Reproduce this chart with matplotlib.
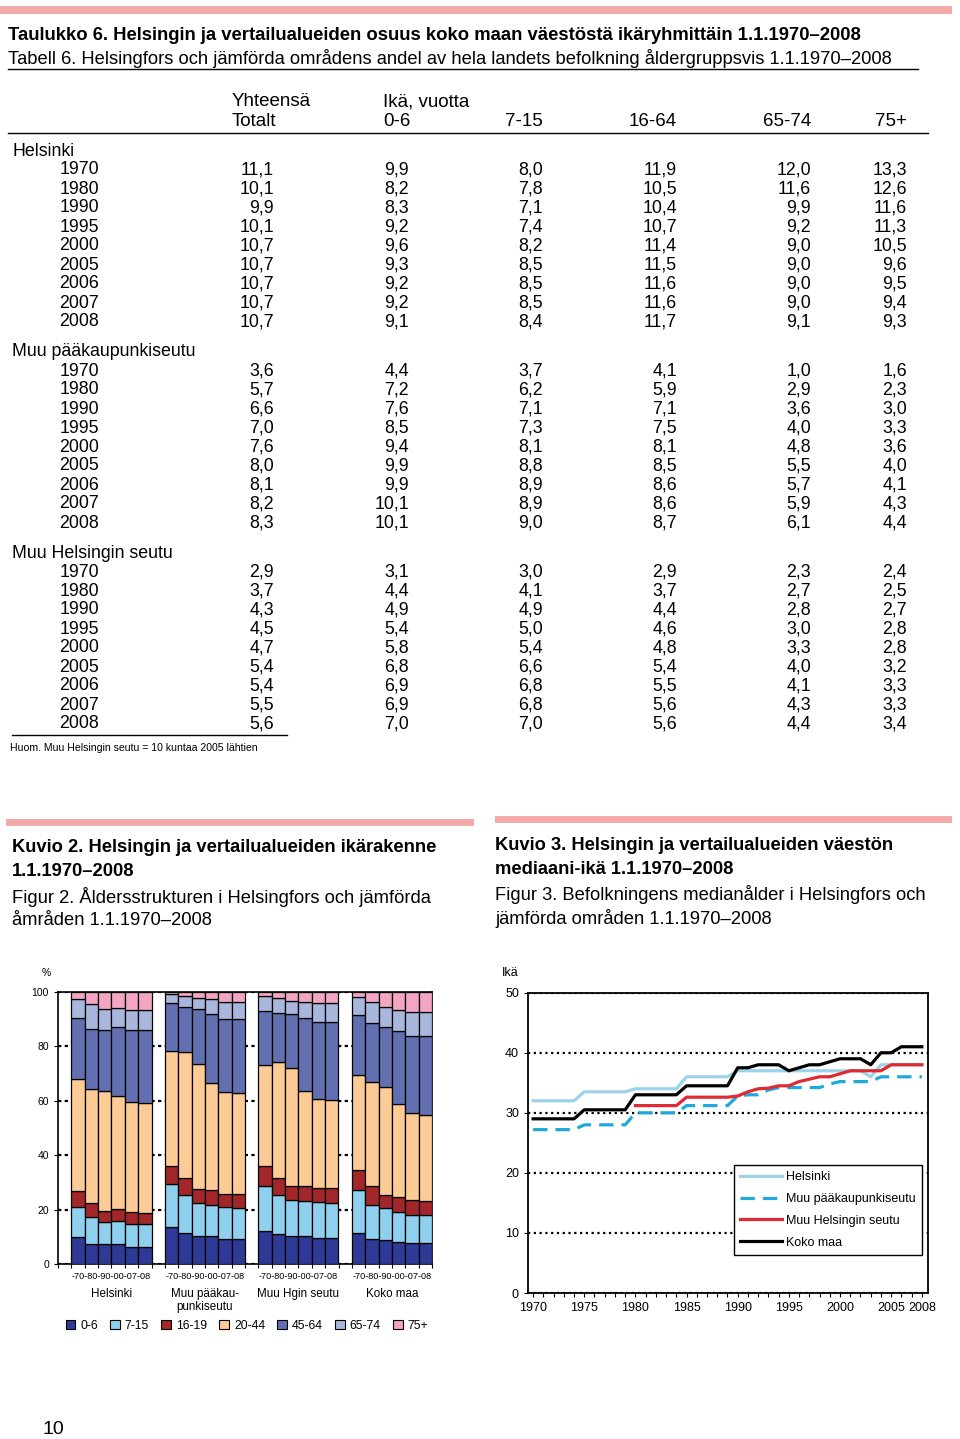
import numpy as np
import matplotlib
matplotlib.use("Agg")
import matplotlib.pyplot as plt
from matplotlib.patches import Rectangle, Patch
from matplotlib.lines import Line2D

plt.rcParams['font.family'] = ['Liberation Sans', 'DejaVu Sans']
NARROW = ['Liberation Sans Narrow', 'Liberation Sans', 'DejaVu Sans']

W, H = 960, 1439

# ---------------- table data ----------------
table_years = [1970, 1980, 1990, 1995, 2000, 2005, 2006, 2007, 2008]
table_groups = ["Helsinki", "Muu pääkaupunkiseutu", "Muu Helsingin seutu"]
table_cols = ["Totalt", "0-6", "7-15", "16-64", "65-74", "75+"]

hki_table = [
    [11.1, 9.9, 8.0, 11.9, 12.0, 13.3],
    [10.1, 8.2, 7.8, 10.5, 11.6, 12.6],
    [9.9, 8.3, 7.1, 10.4, 9.9, 11.6],
    [10.1, 9.2, 7.4, 10.7, 9.2, 11.3],
    [10.7, 9.6, 8.2, 11.4, 9.0, 10.5],
    [10.7, 9.3, 8.5, 11.5, 9.0, 9.6],
    [10.7, 9.2, 8.5, 11.6, 9.0, 9.5],
    [10.7, 9.2, 8.5, 11.6, 9.0, 9.4],
    [10.7, 9.1, 8.4, 11.7, 9.1, 9.3],
]
pks_table = [
    [3.6, 4.4, 3.7, 4.1, 1.0, 1.6],
    [5.7, 7.2, 6.2, 5.9, 2.9, 2.3],
    [6.6, 7.6, 7.1, 7.1, 3.6, 3.0],
    [7.0, 8.5, 7.3, 7.5, 4.0, 3.3],
    [7.6, 9.4, 8.1, 8.1, 4.8, 3.6],
    [8.0, 9.9, 8.8, 8.5, 5.5, 4.0],
    [8.1, 9.9, 8.9, 8.6, 5.7, 4.1],
    [8.2, 10.1, 8.9, 8.6, 5.9, 4.3],
    [8.3, 10.1, 9.0, 8.7, 6.1, 4.4],
]
hs_table = [
    [2.9, 3.1, 3.0, 2.9, 2.3, 2.4],
    [3.7, 4.4, 4.1, 3.7, 2.7, 2.5],
    [4.3, 4.9, 4.9, 4.4, 2.8, 2.7],
    [4.5, 5.4, 5.0, 4.6, 3.0, 2.8],
    [4.7, 5.8, 5.4, 4.8, 3.3, 2.8],
    [5.4, 6.8, 6.6, 5.4, 4.0, 3.2],
    [5.4, 6.9, 6.8, 5.5, 4.1, 3.3],
    [5.5, 6.9, 6.8, 5.6, 4.3, 3.3],
    [5.6, 7.0, 7.0, 5.6, 4.4, 3.4],
]

# ---------------- stacked bar data (%), bars -70 -80 -90 -00 -07 -08 ----------------
bar_regions = ["Helsinki", "Muu pääkau-\npunkiseutu", "Muu Hgin seutu", "Koko maa"]
bar_ticklabel = "-70-80-90-00-07-08"
age_groups = ["0-6", "7-15", "16-19", "20-44", "45-64", "65-74", "75+"]
age_colors = ["#2E3A96", "#8FD0EE", "#A3262A", "#FDCB96", "#6270B1", "#AAB7DD", "#F3A6C3"]

hki_shares = [
    [10.0, 10.8, 6.0, 41.1, 22.6, 6.7, 2.8],
    [7.3, 9.8, 5.2, 42.0, 22.0, 9.0, 4.7],
    [7.3, 8.2, 4.0, 44.0, 22.4, 7.8, 6.3],
    [7.3, 8.5, 4.3, 41.6, 25.3, 7.1, 5.9],
    [6.4, 8.3, 4.4, 40.5, 26.3, 7.2, 6.9],
    [6.4, 8.3, 4.1, 40.4, 26.7, 7.5, 6.6],
]
pks_shares = [
    [13.7, 15.7, 6.6, 42.3, 17.4, 3.3, 1.0],
    [11.3, 14.2, 6.1, 46.4, 16.5, 4.0, 1.5],
    [10.3, 12.1, 5.1, 45.8, 20.2, 4.3, 2.2],
    [10.3, 11.5, 5.5, 39.0, 25.5, 5.4, 2.8],
    [9.3, 11.5, 5.0, 37.4, 26.8, 6.1, 3.9],
    [9.3, 11.3, 5.2, 37.1, 26.9, 6.3, 3.9],
]
hs_shares = [
    [12.0, 16.8, 7.3, 37.1, 19.7, 5.5, 1.6],
    [11.0, 14.2, 6.4, 42.5, 17.9, 5.6, 2.4],
    [10.3, 13.2, 5.0, 43.6, 19.7, 4.9, 3.3],
    [10.3, 12.7, 5.5, 35.1, 26.9, 5.7, 3.8],
    [9.5, 13.3, 5.0, 32.7, 28.4, 6.8, 4.3],
    [9.5, 12.9, 5.4, 32.3, 28.8, 6.8, 4.3],
]
koko_shares = [
    [11.4, 15.8, 7.2, 35.0, 21.9, 6.7, 2.0],
    [9.3, 12.5, 6.7, 38.5, 21.5, 7.8, 3.7],
    [8.8, 11.8, 4.7, 39.8, 21.9, 7.5, 5.5],
    [8.2, 11.0, 5.5, 33.9, 27.0, 7.7, 6.7],
    [7.7, 10.3, 5.5, 32.1, 28.2, 8.6, 7.6],
    [7.7, 10.3, 5.3, 31.5, 29.0, 8.6, 7.6],
]

# ---------------- median age data ----------------
years = list(range(1970, 2009))
median_hki = [32.0] * 5 + [33.5] * 5 + [34.0] * 5 + [36.0] * 5 + [37.0] * 13 + [36.0] + [38.0] * 5
median_pks = ([27.2] * 5 + [28.0] * 5 + [30.0] * 5 + [31.2] * 5 +
              [32.8, 33.0, 33.0, 33.8, 34.2, 34.2, 34.2, 34.2, 34.2, 34.8,
               35.2, 35.2, 35.2, 35.2, 36.0, 36.0, 36.0, 36.0, 36.0])
median_hs = ([np.nan] * 10 + [31.2] * 5 + [32.6] * 5 +
             [32.8, 33.5, 34.0, 34.1, 34.5, 34.5, 35.2, 35.6, 36.0, 36.0,
              36.5, 37.0, 37.0, 37.0, 37.0, 38.0, 38.0, 38.0, 38.0])
median_koko = ([29.0] * 5 + [30.5] * 5 + [33.0] * 5 + [34.5] * 5 +
               [37.5, 37.5, 38.0, 38.0, 38.0, 37.0, 37.5, 38.0, 38.0, 38.5,
                39.0, 39.0, 39.0, 38.0, 40.0, 40.0, 41.0, 41.0, 41.0])


def fx(x):
    return x / W


def fy(y):
    return 1 - y / H


fig = plt.figure(figsize=(9.6, 14.39), dpi=100)


def txt(x, y, s, size=12.8, ha='left', weight='normal', family=None):
    fig.text(fx(x), fy(y), s, ha=ha, va='center', fontsize=size, fontweight=weight,
             family=family if family else plt.rcParams['font.family'])


def hline(x0, x1, y, lw=1.0):
    fig.add_artist(Line2D([fx(x0), fx(x1)], [fy(y), fy(y)], color='black', lw=lw))


def pinkbar(x0, x1, y, h=7):
    fig.add_artist(Rectangle((fx(x0), fy(y + h / 2)), fx(x1) - fx(x0), h / H,
                             color='#F4AAAA', lw=0))


# ---------------- table ----------------
pinkbar(0, 952, 10)
txt(8, 35, "Taulukko 6. Helsingin ja vertailualueiden osuus koko maan väestöstä ikäryhmittäin 1.1.1970–2008",
    size=13.3, weight='bold', family=NARROW)
txt(8, 58, "Tabell 6. Helsingfors och jämförda områdens andel av hela landets befolkning åldergruppsvis 1.1.1970–2008",
    size=13.2, family=NARROW)
hline(8, 918, 69)

txt(232, 102, "Yhteensä", family=NARROW, size=13.5)
txt(232, 121, table_cols[0], family=NARROW, size=13.5)
txt(383, 102, "Ikä, vuotta", family=NARROW, size=13.5)
txt(383, 121, table_cols[1], family=NARROW, size=13.5)
col_right = [274, 409, 543, 677, 811, 907]
for c in range(2, 6):
    txt(col_right[c], 121, table_cols[c], ha='right', family=NARROW, size=13.5)
hline(8, 928, 133)

for g, (name, rows) in enumerate(zip(table_groups, [hki_table, pks_table, hs_table])):
    y0 = 151 + g * 201
    txt(12, y0, name)
    for i, yr in enumerate(table_years):
        yy = y0 + 19 * (i + 1)
        txt(99, yy, str(yr), ha='right')
        for c, v in enumerate(rows[i]):
            txt(col_right[c], yy, f"{v:.1f}".replace('.', ','), ha='right')

hline(12, 287, 735)
txt(10, 748, "Huom. Muu Helsingin seutu = 10 kuntaa 2005 lähtien", size=7.6)

# ---------------- captions ----------------
pinkbar(6, 474, 822)
pinkbar(495, 952, 819)
cap = 13.2
txt(12, 848, "Kuvio 2. Helsingin ja vertailualueiden ikärakenne", size=cap, weight='bold', family=NARROW)
txt(12, 872, "1.1.1970–2008", size=cap, weight='bold', family=NARROW)
txt(12, 897, "Figur 2. Åldersstrukturen i Helsingfors och jämförda", size=cap, family=NARROW)
txt(12, 921, "åmråden 1.1.1970–2008", size=cap, family=NARROW)
txt(495, 846, "Kuvio 3. Helsingin ja vertailualueiden väestön", size=cap, weight='bold', family=NARROW)
txt(495, 870, "mediaani-ikä 1.1.1970–2008", size=cap, weight='bold', family=NARROW)
txt(495, 895, "Figur 3. Befolkningens medianålder i Helsingfors och", size=cap, family=NARROW)
txt(495, 919, "jämförda områden 1.1.1970–2008", size=cap, family=NARROW)
txt(42, 1430, "10", size=14)

# ---------------- stacked bars ----------------
ax1 = fig.add_axes([fx(58), fy(1264), fx(432) - fx(58), (1264 - 991.7) / H])
all_shares = [hki_shares, pks_shares, hs_shares, koko_shares]
for g, shares in enumerate(all_shares):
    arr = np.array(shares)
    xs = g * 7 + 1 + np.arange(arr.shape[0])
    bottom = np.zeros(arr.shape[0])
    for k in range(arr.shape[1]):
        ax1.bar(xs, arr[:, k], width=1.0, bottom=bottom, color=age_colors[k],
                edgecolor='black', linewidth=0.9, zorder=3)
        bottom += arr[:, k]

ax1.set_xlim(-0.5, 27.5)
ax1.set_ylim(0, 100)
ax1.set_yticks([0, 20, 40, 60, 80, 100])
ax1.set_yticklabels(["0", "20", "40", "60", "80", "100"], fontsize=7.5)
ax1.set_xticks(np.arange(-0.5, 28, 1))
ax1.set_xticklabels([])
ax1.tick_params(axis='both', direction='out', length=3, width=0.8)
ax1.yaxis.grid(True, linestyle=(0, (1.5, 1.5)), color='black', lw=1.6)
ax1.set_axisbelow(True)
for s in ax1.spines.values():
    s.set_linewidth(1.2)
ax1.text(-0.02, 1.07, "%", transform=ax1.transAxes, ha='right', va='center', fontsize=7.5)
for g, name in enumerate(bar_regions):
    cx = g * 7 + 3.5
    ax1.annotate(bar_ticklabel, (cx, 0), xycoords=('data', 'axes fraction'),
                 xytext=(0, -9), textcoords='offset points', ha='center', va='center', fontsize=6.6)
    ax1.annotate(name, (cx, 0), xycoords=('data', 'axes fraction'),
                 xytext=(0, -17), textcoords='offset points', ha='center', va='top',
                 fontsize=8.4, linespacing=1.2)

handles = [Patch(facecolor=c, edgecolor='black', lw=0.8) for c in age_colors]
fig.legend(handles, age_groups, loc='center', bbox_to_anchor=(fx(247), fy(1326)), ncol=7,
           frameon=False, fontsize=8.8, handlelength=0.8, handleheight=0.8,
           handletextpad=0.4, columnspacing=1.0)

# ---------------- median age lines ----------------
ax2 = fig.add_axes([fx(528), fy(1293), fx(928) - fx(528), (1293 - 992.7) / H])
lw = 2.3
ax2.plot(years, median_hki, color='#9DD3EA', lw=lw, label="Helsinki", zorder=3)
ax2.plot(years, median_pks, color='#1FA8DE', lw=lw, dashes=(4.5, 2.5), label="Muu pääkaupunkiseutu", zorder=3)
ax2.plot(years, median_hs, color='#DE2A32', lw=lw, label="Muu Helsingin seutu", zorder=4)
ax2.plot(years, median_koko, color='black', lw=lw, label="Koko maa", zorder=5)
ax2.set_xlim(1969.5, 2008.6)
ax2.set_ylim(0, 50)
ax2.set_yticks([0, 10, 20, 30, 40, 50])
ax2.set_yticklabels(["0", "10", "20", "30", "40", "50"], fontsize=9)
ax2.set_xticks([1970, 1975, 1980, 1985, 1990, 1995, 2000, 2005, 2008])
ax2.set_xticklabels(["1970", "1975", "1980", "1985", "1990", "1995", "2000", "2005", "2008"], fontsize=9)
ax2.set_xticks(years, minor=True)
ax2.tick_params(axis='both', which='both', direction='out', length=3, width=0.8)
ax2.yaxis.grid(True, linestyle=(0, (1, 1.6)), color='black', lw=1.6)
ax2.set_axisbelow(True)
for s in ax2.spines.values():
    s.set_linewidth(1.3)
ax2.text(-0.065, 1.065, "Ikä", transform=ax2.transAxes, ha='left', va='center', fontsize=9)
leg = ax2.legend(loc='upper right', bbox_to_anchor=(0.985, 0.426), fontsize=9, frameon=True,
                 fancybox=False, edgecolor='black', handlelength=3.4, handletextpad=0.3,
                 borderpad=0.5, labelspacing=0.78, borderaxespad=0)
leg.get_frame().set_linewidth(1.0)
leg.get_frame().set_alpha(1)

fig.savefig("out.png", dpi=100)
